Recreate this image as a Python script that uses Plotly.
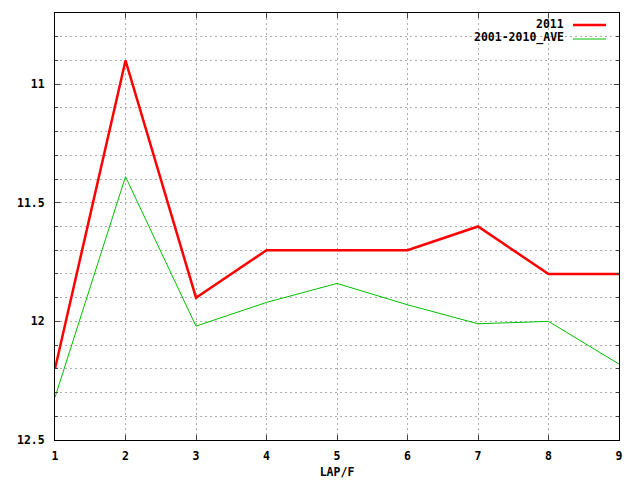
import plotly.graph_objects as go

laps = [1, 2, 3, 4, 5, 6, 7, 8, 9]
y2011 = [12.2, 10.9, 11.9, 11.7, 11.7, 11.7, 11.6, 11.8, 11.8]
yave = [12.32, 11.39, 12.02, 11.92, 11.84, 11.93, 12.01, 12.0, 12.18]
names = ["2011", "2001-2010_AVE"]
colors = ["#ff0000", "#00c000"]
widths = [2.5, 1]

FONT = "DejaVu Sans Mono"
OFF = 8  # page body offset
W, H = 640 - OFF, 480 - OFF
L, R, T, B = 55 - OFF, 21, 13 - OFF, 40

fig = go.Figure()
for ys, nm, c, w in zip([y2011, yave], names, colors, widths):
    fig.add_trace(go.Scatter(x=laps, y=ys, mode="lines", name=nm,
                             line=dict(color=c, width=w), showlegend=False))

grid = dict(showgrid=True, gridcolor="#acacac", griddash="2px,3px", gridwidth=1)
tf = dict(family=FONT, size=11.5, color="black", weight="bold")

fig.update_layout(
    width=W, height=H,
    margin=dict(l=L, r=R, t=T, b=B, autoexpand=False),
    paper_bgcolor="white", plot_bgcolor="white",
    font=dict(family=FONT, size=11.5, color="black"),
    xaxis=dict(range=[1, 9], dtick=1, tick0=1, ticks="inside", ticklen=5,
               showline=True, linecolor="black", linewidth=1, mirror="ticks",
               zeroline=False, tickfont=tf, ticklabelstandoff=5, automargin=False,
               title=dict(text="LAP/F", font=tf, standoff=6),
               **grid),
    yaxis=dict(range=[12.5, 10.7], dtick=0.5, tick0=11, ticks="inside", ticklen=5,
               showline=True, linecolor="black", linewidth=1, mirror="ticks",
               zeroline=False, tickfont=tf, ticklabelstandoff=7, automargin=False,
               minor=dict(dtick=0.1, tick0=10.7, ticks="inside", ticklen=3,
                          showgrid=True, gridcolor="#acacac", griddash="2px,3px"),
               **grid),
)

pw, ph = W - L - R, H - T - B
rows = [24, 38]
for nm, c, w, yr in zip(names, colors, widths, rows):
    yp = 1 - (yr - 13) / ph
    fig.add_annotation(xref="paper", yref="paper", x=(566 - 55) / pw, y=yp,
                       text=nm, showarrow=False, xanchor="right", yanchor="middle",
                       font=tf)
    fig.add_shape(type="line", xref="paper", yref="paper",
                  x0=(573 - 55) / pw, x1=(606 - 55) / pw,
                  y0=yp - 1 / ph, y1=yp - 1 / ph, line=dict(color=c, width=w))

fig.write_html("out.html")
